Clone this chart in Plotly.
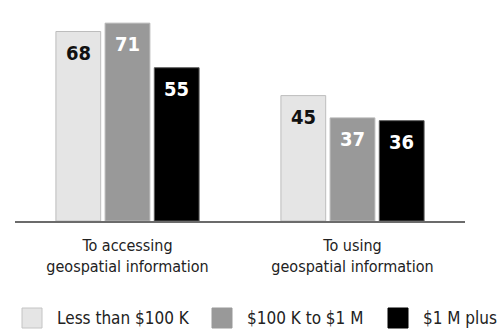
import plotly.graph_objects as go

# Survey shares (%) by organisation budget size
categories = ["To accessing<br>geospatial information", "To using<br>geospatial information"]
series_names = ["Less than $100 K", "$100 K to $1 M", "$1 M plus"]
values = [
    [68, 45],
    [71, 37],
    [55, 36],
]

fills = ["#e5e5e5", "#999999", "#000000"]
edges = ["#bdbdbd", "#b5b5b5", "#5a5a5a"]
swatch_edges = ["#c4c4c4", "#999999", "#000000"]
label_colors = ["#111111", "#ffffff", "#ffffff"]

FONT = "DejaVu Sans Condensed, sans-serif"
W, H = 501, 332
M = dict(l=15, r=36, t=12, b=111)
BARGAP = 0.344
BARGROUPGAP = 0.09

fig = go.Figure()
for name, vals, fc, ec in zip(series_names, values, fills, edges):
    fig.add_trace(go.Bar(
        x=list(range(len(categories))), y=vals, name=name,
        marker=dict(color=fc, line=dict(color=ec, width=1)),
        showlegend=False, hoverinfo="skip",
    ))

# value labels inside the top of each bar
slot = (1 - BARGAP) / len(series_names)
for j, (vals, tc) in enumerate(zip(values, label_colors)):
    for i, v in enumerate(vals):
        fig.add_annotation(
            x=i + (j - (len(series_names) - 1) / 2) * slot, y=v,
            xref="x", yref="y", text=f"<b>{v}</b>", showarrow=False,
            yanchor="top", yshift=-7,
            font=dict(family=FONT, size=20, color=tc),
        )

# key row along the bottom: swatch + name for each series
plot_w = W - M["l"] - M["r"]
plot_h = H - M["t"] - M["b"]


def px_x(px):
    return (px - M["l"]) / plot_w


def px_y(py):
    return (H - M["b"] - py) / plot_h


key_left = [22, 212, 388]
SW = 20
key_mid = 318
for name, fc, ec, x0 in zip(series_names, fills, swatch_edges, key_left):
    fig.add_shape(
        type="rect", xref="paper", yref="paper",
        x0=px_x(x0), x1=px_x(x0 + SW), y0=px_y(key_mid + SW / 2), y1=px_y(key_mid - SW / 2),
        fillcolor=fc, line=dict(color=ec, width=1),
    )
    fig.add_annotation(
        x=px_x(x0 + SW + 13), y=px_y(key_mid), xref="paper", yref="paper",
        xanchor="left", yanchor="middle", showarrow=False, text=name,
        font=dict(family=FONT, size=17, color="#222222"),
    )

fig.update_layout(
    width=W, height=H, margin=M,
    paper_bgcolor="white", plot_bgcolor="white",
    barmode="group", bargap=BARGAP, bargroupgap=BARGROUPGAP,
    font=dict(family=FONT, size=16, color="#222222"),
    showlegend=False,
    xaxis=dict(
        tickmode="array", tickvals=list(range(len(categories))), ticktext=categories,
        range=[-0.5, len(categories) - 0.5],
        showline=True, linecolor="#6b6b6b", linewidth=2,
        showgrid=False, zeroline=False, ticks="", ticklabelstandoff=9,
        tickfont=dict(size=16, color="#222222"),
    ),
    yaxis=dict(range=[0, 75], visible=False, showgrid=False, zeroline=False),
)

fig.write_html("out.html")
